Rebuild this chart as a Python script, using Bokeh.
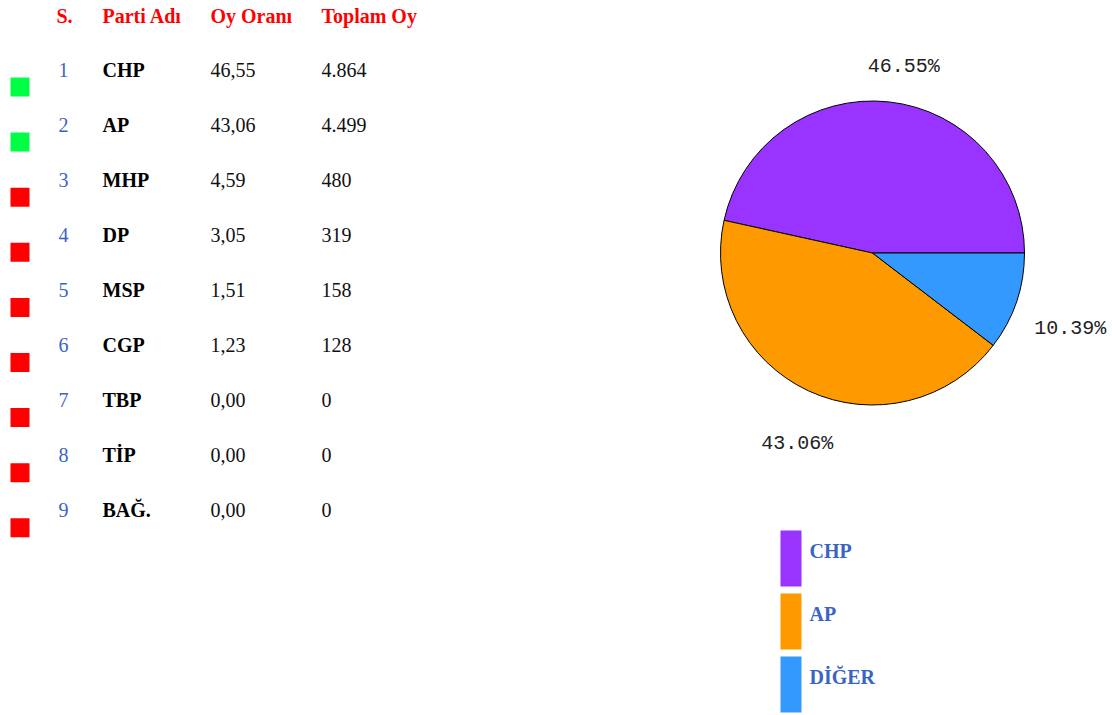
import math
from bokeh.plotting import figure
from bokeh.models import Range1d, ColumnDataSource
from bokeh.core.properties import value
from bokeh.embed import file_html
from bokeh.resources import INLINE

# ---------------- data ----------------
headers = ["S.", "Parti Adı", "Oy Oranı", "Toplam Oy"]
ranks = [1, 2, 3, 4, 5, 6, 7, 8, 9]
parties = ["CHP", "AP", "MHP", "DP", "MSP", "CGP", "TBP", "TİP", "BAĞ."]
vote_rates = [46.55, 43.06, 4.59, 3.05, 1.51, 1.23, 0.00, 0.00, 0.00]
vote_totals = [4864, 4499, 480, 319, 158, 128, 0, 0, 0]
elected = [True, True, False, False, False, False, False, False, False]

pie_labels = ["CHP", "AP", "DİĞER"]
pie_shares = [46.55, 43.06, 10.39]
pie_colors = ["#9933FF", "#FF9900", "#3399FF"]

# ---------------- layout (screen px) ----------------
W, H = 1110, 713
PAGE_H = 715
TXT_OFF = -8  # screen px shift for alphabetic-baseline texts


def sy(y):  # screen y -> data y
    return PAGE_H - y


p = figure(width=W, height=H, output_backend="svg", toolbar_location=None,
           x_range=Range1d(0, W), y_range=Range1d(PAGE_H - H, PAGE_H),
           x_axis_type=None, y_axis_type=None, min_border=0)
p.outline_line_color = None
p.xgrid.visible = False
p.ygrid.visible = False
p.background_fill_color = "white"
p.border_fill_color = "white"

serif = value("Liberation Serif")

# header
col_x = [56, 102, 210, 321]
p.text(x=col_x, y=[sy(23)] * 4, text=headers, text_font=serif,
       text_font_size="20px", text_font_style="bold", text_color="#FF0000",
       text_baseline="alphabetic", text_align="left", y_offset=TXT_OFF)

# rows
row0, row_step = 77.0, 55.1
base = [row0 + i * row_step for i in range(len(ranks))]
ys = [sy(b) for b in base]

rate_txt = [f"{v:.2f}".replace(".", ",") for v in vote_rates]
tot_txt = [f"{v:,}".replace(",", ".") for v in vote_totals]

p.text(x=[58] * len(ranks), y=ys, text=[str(r) for r in ranks], text_font=serif,
       text_font_size="20px", text_color="#3B63C4", text_baseline="alphabetic",
       y_offset=TXT_OFF)
p.text(x=[102] * len(ranks), y=ys, text=parties, text_font=serif,
       text_font_size="20px", text_font_style="bold", text_color="#000000",
       text_baseline="alphabetic", y_offset=TXT_OFF)
p.text(x=[210] * len(ranks), y=ys, text=rate_txt, text_font=serif,
       text_font_size="20px", text_color="#111111", text_baseline="alphabetic",
       y_offset=TXT_OFF)
p.text(x=[321] * len(ranks), y=ys, text=tot_txt, text_font=serif,
       text_font_size="20px", text_color="#111111", text_baseline="alphabetic",
       y_offset=TXT_OFF)

sq_colors = ["#00FF44" if e else "#FF0000" for e in elected]
p.rect(x=[19.5] * len(ranks), y=[sy(b + 9.5) for b in base], width=19, height=19,
       fill_color=sq_colors, line_color=None)

# pie
cx, cy, R = 872, sy(252.5), 152
total = sum(pie_shares)
starts, ends, mids = [], [], []
acc = 0.0
for s in pie_shares:
    a0 = acc / total * 2 * math.pi
    acc += s
    a1 = acc / total * 2 * math.pi
    starts.append(a0)
    ends.append(a1)
    mids.append((a0 + a1) / 2)

src = ColumnDataSource(dict(start=starts, end=ends, color=pie_colors))
p.wedge(x=cx, y=cy, radius=R, radius_units="screen", start_angle="start",
        end_angle="end", fill_color="color", line_color="#000000", line_width=1,
        source=src)

label_r = [188, 205, 212]
label_dx = [11, 11, -3]
label_dy = [0, -5, -8]
lx = [cx + r * math.cos(m) + d for r, m, d in zip(label_r, mids, label_dx)]
ly = [cy + r * math.sin(m) + d for r, m, d in zip(label_r, mids, label_dy)]
p.text(x=lx, y=ly, text=[f"{s:.2f}%" for s in pie_shares],
       text_font=value("Liberation Mono"), text_font_size="20px",
       text_color="#222222", text_align="center", text_baseline="middle")

# legend
leg_step = 63
leg_c = [558 + j * leg_step for j in range(len(pie_labels))]
p.rect(x=[790.5] * 3, y=[sy(c) for c in leg_c], width=21, height=56,
       fill_color=pie_colors, line_color=None)
p.text(x=[809] * 3, y=[sy(c) for c in leg_c], text=pie_labels, text_font=serif,
       text_font_size="20px", text_font_style="bold", text_color="#3B63C4",
       text_baseline="alphabetic", y_offset=TXT_OFF)

open("out.html", "w").write(file_html(p, INLINE))
